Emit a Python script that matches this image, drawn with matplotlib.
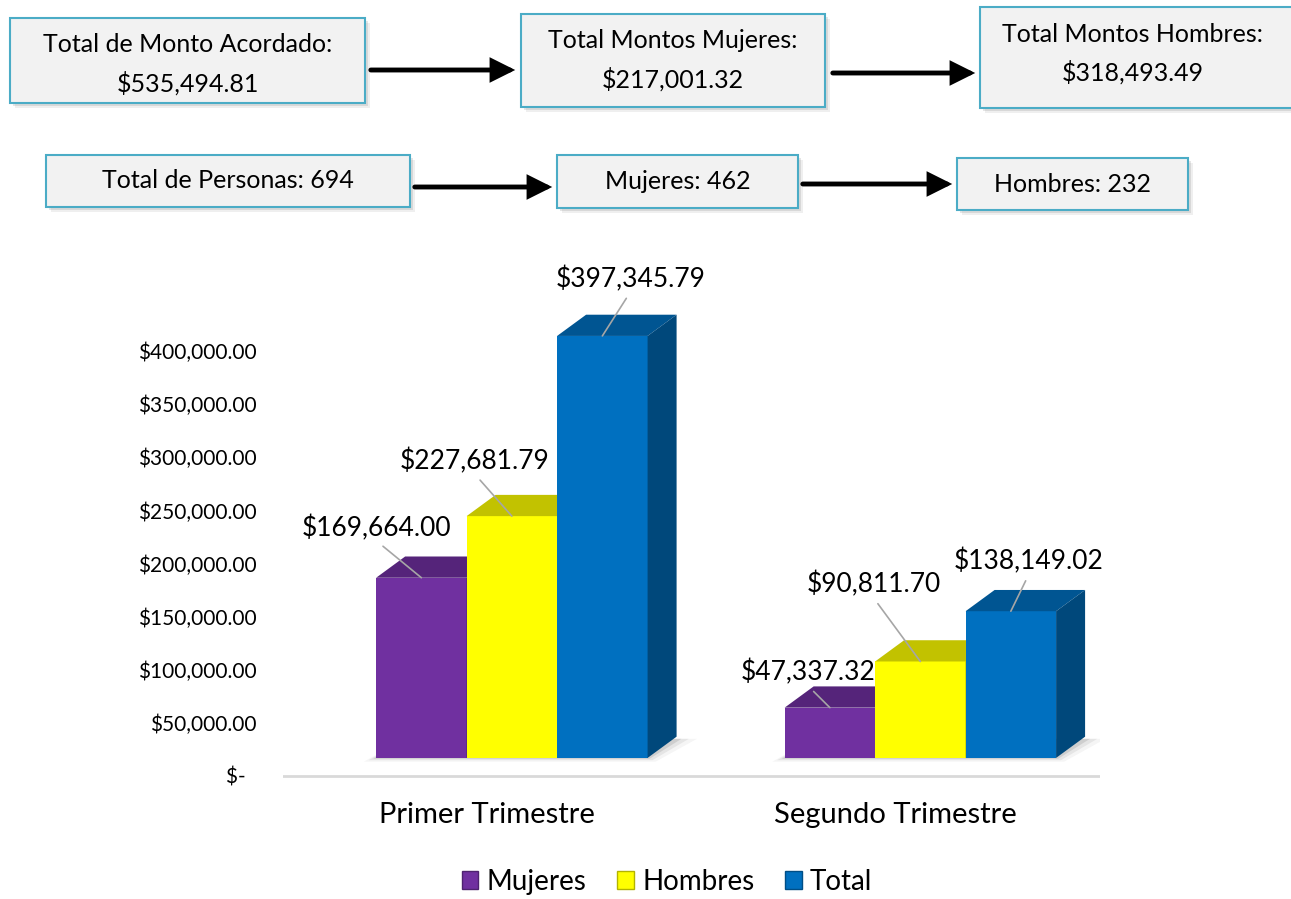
import matplotlib.pyplot as plt
from matplotlib.patches import Rectangle, Polygon, Patch, FancyArrowPatch

plt.rcParams['font.family'] = ['Lato', 'DejaVu Sans']

# data
categories = ['Primer Trimestre', 'Segundo Trimestre']
series = ['Mujeres', 'Hombres', 'Total']
mujeres = [169664.00, 47337.32]
hombres = [227681.79, 90811.70]
total = [397345.79, 138149.02]
colors = ['#7030A0', '#FFFF00', '#0070C0']

yticks = [0, 50000, 100000, 150000, 200000, 250000, 300000, 350000, 400000]
ytick_labels = ['$-  '] + ['${:,.2f}'.format(t) for t in yticks[1:]]

monto_titles = ['Total de Monto Acordado:', 'Total Montos Mujeres:', 'Total Montos Hombres:']
monto_values = ['$535,494.81', '$217,001.32', '$318,493.49']
personas_labels = ['Total de Personas: 694', 'Mujeres: 462', 'Hombres: 232']

W, H = 1291, 899
fig = plt.figure(figsize=(W / 100, H / 100), dpi=100)


def fx(x):
    return x / W


def fy(y):
    return 1 - y / H


def shade(c, f):
    r, g, b = plt.matplotlib.colors.to_rgb(c)
    return (r * f, g * f, b * f)


def box(x0, y0, x1, y1):
    for off, a in [(5, 0.12), (3, 0.2)]:
        fig.add_artist(Rectangle((fx(x0 + off), fy(y1 + off)), (x1 - x0) / W, (y1 - y0) / H,
                                 transform=fig.transFigure, facecolor='#808080',
                                 edgecolor='none', alpha=a))
    fig.add_artist(Rectangle((fx(x0), fy(y1)), (x1 - x0) / W, (y1 - y0) / H,
                             transform=fig.transFigure, facecolor='#F2F2F2',
                             edgecolor='#4BACC6', lw=1.5))


def arrow(x0, x1, y):
    fig.add_artist(FancyArrowPatch((fx(x0), fy(y)), (fx(x1), fy(y)),
                                   transform=fig.transFigure,
                                   arrowstyle='-|>,head_length=0.8,head_width=0.4',
                                   mutation_scale=16, lw=3.5, color='black',
                                   joinstyle='miter'))


# top row: amounts
top_boxes = [(10, 18, 365, 103), (521, 14, 825, 107), (980, 7, 1300, 108)]
for (x0, y0, x1, y1), t, v in zip(top_boxes, monto_titles, monto_values):
    box(x0, y0, x1, y1)
    cx = (min(x1, 1291) + x0) / 2 + (-3 if x1 > 1291 else 0)
    fig.text(fx(cx), fy(y0 + 27), t, ha='center', va='center', fontsize=18)
    fig.text(fx(cx), fy(y0 + 65), v, ha='center', va='center', fontsize=18)
arrow(368, 518, 70)
arrow(830, 978, 73)

# second row: people
mid_boxes = [(46, 155, 410, 207), (557, 155, 798, 208), (957, 158, 1188, 210)]
for (x0, y0, x1, y1), t in zip(mid_boxes, personas_labels):
    box(x0, y0, x1, y1)
    fig.text(fx((x0 + x1) / 2), fy((y0 + y1) / 2), t, ha='center', va='center', fontsize=18)
arrow(412, 555, 187)
arrow(800, 955, 184)

# chart
ax = fig.add_axes([fx(283), fy(791.9), 817 / W, 536.3 / H])
ax.set_xlim(-0.5, 1.5)
ax.set_ylim(-15000, 490000)

base = 17000      # floor lift of the 3D bars
width = 0.2215
dx, dy = 0.071, 20000
first = -0.272

values = [mujeres, hombres, total]
label_offsets = [[(-45, 50), (-22, 35)],
                 [(-37, 55), (-47, 77)],
                 [(28, 57), (18, 50)]]

for i in range(len(categories)):
    gl = i + first
    gr = i + first + 3 * width
    for m, a in [(0.05, 0.06), (0.03, 0.10), (0.012, 0.16)]:
        ax.add_patch(Polygon([(gl - m * 0.6, base - m * 70000), (gr + m * 0.4, base - m * 70000),
                              (gr + dx + m, base + dy - 2000), (gl + dx, base + dy - 2000)],
                             closed=True, facecolor='#595959', edgecolor='none', alpha=a, zorder=1))
    for k in range(3):
        v = values[k][i]
        x0 = i + first + k * width
        x1 = x0 + width
        top = base + v
        c = colors[k]
        ax.bar(x0, v, width=width, bottom=base, align='edge', color=c, edgecolor='none', zorder=2)
        ax.add_patch(Polygon([(x0, top), (x1, top), (x1 + dx, top + dy), (x0 + dx, top + dy)],
                             closed=True, facecolor=shade(c, 0.76), edgecolor='none', zorder=2))
        ax.add_patch(Polygon([(x1, base), (x1 + dx, base + dy), (x1 + dx, top + dy), (x1, top)],
                             closed=True, facecolor=shade(c, 0.64), edgecolor='none', zorder=2))
        ox, oy = label_offsets[k][i]
        ax.annotate('${:,.2f}'.format(v), xy=(x0 + width / 2, top), xytext=(ox, oy),
                    textcoords='offset pixels', ha='center', va='center', fontsize=19,
                    arrowprops=dict(arrowstyle='-', color='#A6A6A6', lw=1.2,
                                    shrinkA=3, shrinkB=0, relpos=(0.5, 0.0)),
                    zorder=5)

ax.axhline(0, color='#D9D9D9', lw=2, zorder=0)
ax.set_yticks(yticks)
ax.set_yticklabels(ytick_labels, fontsize=15)
ax.set_xticks(range(len(categories)))
ax.set_xticklabels(categories, fontsize=21)
ax.tick_params(axis='both', length=0)
ax.tick_params(axis='y', pad=19)
ax.tick_params(axis='x', pad=7)
for s in ax.spines.values():
    s.set_visible(False)
ax.patch.set_alpha(0)

handles = [Patch(facecolor=c, edgecolor=shade(c, 0.7), lw=1) for c in colors]
fig.legend(handles, series, loc='center', bbox_to_anchor=(fx(667), fy(882)), ncol=3,
           frameon=False, fontsize=20, handlelength=0.6, handleheight=0.6,
           handletextpad=0.3, columnspacing=1.1)

fig.savefig('out.png', dpi=100)
